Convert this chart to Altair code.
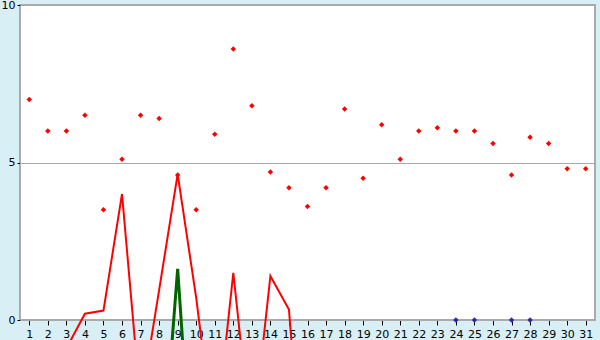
import altair as alt
import pandas as pd

days = list(range(1, 32))
red_points = [7.0, 6.0, 6.0, 6.5, 3.5, 5.1, 6.5, 6.4, 4.6, 3.5, 5.9, 8.6, 6.8, 4.7, 4.2,
              3.6, 4.2, 6.7, 4.5, 6.2, 5.1, 6.0, 6.1, 6.0, 6.0, 5.6, 4.6, 5.8, 5.6, 4.8, 4.8]
red_line_days = list(range(3, 17))
red_line_vals = [-0.9, 0.2, 0.3, 4.0, -2.7, 0.95, 4.63, 0.7, -4.0, 1.5, -4.0, 1.4, 0.33, -7.0]
green_line_days = [8, 9, 10]
green_line_vals = [-6.0, 1.62, -7.0]
blue_days = [24, 25, 27, 28]
blue_vals = [0, 0, 0, 0]

df_pts = pd.DataFrame({"day": days, "v": red_points})
df_red = pd.DataFrame({"day": red_line_days, "v": red_line_vals})
df_green = pd.DataFrame({"day": green_line_days, "v": green_line_vals})
df_blue = pd.DataFrame({"day": blue_days, "v": blue_vals})

xs = alt.X("day:Q", scale=alt.Scale(domain=[0.5, 31.5], nice=False, zero=False),
           axis=alt.Axis(values=days, format="d", title=None, grid=False,
                         tickSize=5, tickColor="black", domainColor="#aaaaaa",
                         labelPadding=3, labelFlush=False, labelOverlap=False))
ys = alt.Y("v:Q", scale=alt.Scale(domain=[0, 10], nice=False, zero=False),
           axis=alt.Axis(values=[0, 5, 10], title=None, grid=True, gridColor="#aaaaaa",
                         tickSize=3, tickColor="black", domainColor="#aaaaaa",
                         labelPadding=2, labelFlush=False))

red_line = alt.Chart(df_red).mark_line(color="#ff0000", strokeWidth=2, clip=False).encode(x=xs, y=ys)
green_line = alt.Chart(df_green).mark_line(color="#006400", strokeWidth=3, clip=False).encode(x=xs, y=ys)
pts = alt.Chart(df_pts).mark_point(shape="diamond", filled=True, color="#ff0000", size=30, opacity=1).encode(x=xs, y=ys)
blue = alt.Chart(df_blue).mark_point(shape="diamond", filled=True, color="#2a2ab0", size=30, opacity=1).encode(x=xs, y=ys)

chart = alt.layer(red_line, green_line, pts, blue).properties(
    width=575, height=315,
    autosize=alt.AutoSizeParams(type="none"),
    padding={"left": 20, "top": 5, "right": 5, "bottom": 20},
    background="#d9eff6",
).configure_view(
    fill="white", stroke="#aaaaaa", strokeWidth=2
).configure_axis(
    labelFont="DejaVu Sans", labelFontSize=11, labelColor="black"
)

chart.save("out.html", embed_options={"renderer": "svg", "actions": False})
